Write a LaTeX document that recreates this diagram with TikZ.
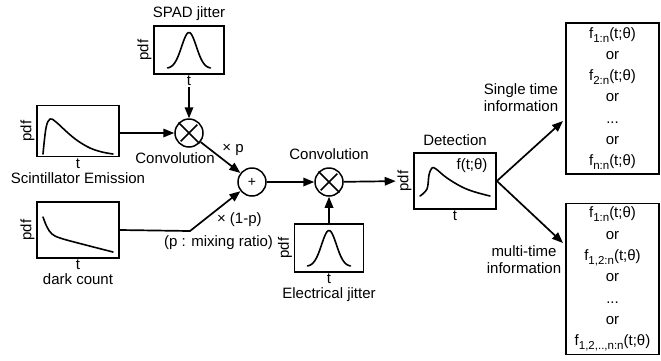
\documentclass[tikz,border=0pt]{standalone}
\usepackage{fontspec}
\setmainfont{Liberation Sans}
\usetikzlibrary{arrows.meta, positioning, calc}

\tikzset{
  plotbox/.style={draw, line width=1.8pt, inner sep=0pt},
  opnode/.style={draw, circle, line width=1.5pt, minimum size=28pt, inner sep=0pt},
  pdflabel/.style={rotate=90, anchor=south, inner sep=1.5pt},
  tlabel/.style={below=0pt of #1, inner sep=1pt},
  titlebelow/.style={below=1.5pt of #1, inner sep=1pt},
  curve/.style={line width=1.6pt, line join=round, line cap=round},
  arrow/.style={-{Triangle[length=11pt, width=8.5pt]}, line width=1.7pt},
  outbox/.style={draw, line width=1.8pt, minimum width=93pt, minimum height=151pt,
    align=center, inner sep=0pt, font=\fontsize{15pt}{21.3pt}\selectfont}
}

% bell shaped jitter curve inside a box
\newcommand{\gausscurve}[1]{%
  \draw[curve, shift={(#1.center)}] plot[domain=-21.5:21.5, samples=50, smooth]
    (\x, {18.5-36*exp(-\x*\x/110)});}
% cross inside a convolution circle
\newcommand{\crossmark}[1]{%
  \draw[line width=1.5pt, shorten >=3pt, shorten <=3pt]
    (#1.north west) -- (#1.south east) (#1.north east) -- (#1.south west);}
% order statistic index
\newcommand{\idx}[1]{\raisebox{-4pt}{\fontsize{11.5pt}{11.5pt}\selectfont #1}}

\begin{document}
\begin{tikzpicture}[x=1pt, y=-1pt,
  every node/.style={font=\fontsize{15pt}{17pt}\selectfont}]
  \useasboundingbox (0,0) rectangle (661,360);

  % input pdfs
  \node[plotbox, minimum width=70pt, minimum height=48pt] (spad) at (189,50) {};
  \node[pdflabel] (spadpdf) at (spad.west) {pdf};
  \node[tlabel=spad] (spadt) {t};
  \node[above=1pt of spad] (spadtitle) {SPAD jitter};
  \gausscurve{spad}

  \node[plotbox, minimum width=82pt, minimum height=51pt] (scint) at (78,131) {};
  \node[pdflabel] (scintpdf) at (scint.west) {pdf};
  \node[tlabel=scint] (scintt) {t};
  \node[titlebelow=scintt] (scinttitle) {Scintillator Emission};
  \draw[curve, shift={(scint.center)}] plot[smooth, tension=0.6] coordinates
    {(-35,23) (-32,-3) (-28,-12) (-22,-9) (-10,2) (0,10) (12,17) (24,21) (35,23)};

  \node[plotbox, minimum width=82pt, minimum height=56pt] (dark) at (78,230) {};
  \node[pdflabel] (darkpdf) at (dark.west) {pdf};
  \node[tlabel=dark] (darkt) {t};
  \node[titlebelow=darkt] (darktitle) {dark count};
  \draw[curve, shift={(dark.center)}] plot[smooth, tension=0.6] coordinates
    {(-35,-13) (-31,-3) (-26,4) (-18,8) (0,13) (35,22)};

  \node[plotbox, minimum width=69pt, minimum height=48pt] (elec) at (329,248) {};
  \node[pdflabel] (elecpdf) at (elec.west) {pdf};
  \node[tlabel=elec] (elect) {t};
  \node[titlebelow=elect] (electitle) {Electrical jitter};
  \gausscurve{elec}

  % operators
  \node[opnode] (conv1) at (189,133) {};
  \crossmark{conv1}
  \node[below=1pt of conv1, xshift=-14pt] (conv1label) {Convolution};
  \node[opnode, font=\fontsize{14pt}{14pt}\selectfont] (plus) at (252,182) {+};
  \node[opnode] (conv2) at (329,182) {};
  \crossmark{conv2}
  \node[above=4pt of conv2] (conv2label) {Convolution};

  % detection
  \node[plotbox, minimum width=82pt, minimum height=56pt] (det) at (455,181) {};
  \node[pdflabel] (detpdf) at (det.west) {pdf};
  \node[tlabel=det] (dett) {t};
  \node[above=3pt of det] (dettitle) {Detection};
  \node (detf) at (472,166) {f(t;θ)};
  \draw[curve, shift={(det.center)}] plot[smooth, tension=0.6] coordinates
    {(-35,15) (-28,8) (-26,-6) (-23,-13) (-19,-12) (-8,-3) (7,6) (20,11) (35,15)};

  % outputs
  \node[outbox] (single) at (612.5,98.5)
    {f\idx{1:n}(t;θ)\\or\\f\idx{2:n}(t;θ)\\or\\...\\or\\f\idx{n:n}(t;θ)};
  \node[outbox] (multi) at (612.5,279)
    {f\idx{1:n}(t;θ)\\or\\f\idx{1,2:n}(t;θ)\\or\\...\\or\\f\idx{1,2,..,n:n}(t;θ)};
  \node[align=center] (singlelabel) at (521,98) {Single time\\information};
  \node[align=center] (multilabel) at (524,259.5) {multi-time\\information};
  \coordinate (singletip) at (563,121);
  \coordinate (multitip) at (563,243);
  \coordinate (kink) at (190,231);

  % connections
  \draw[arrow] (spadt) -- (conv1);
  \draw[arrow] (scint.east |- conv1) -- (conv1);
  \draw[arrow] (conv1) -- node[midway, above right, inner sep=1pt] (plabel) {× p} (plus);
  \draw[arrow] (dark.east) -- (kink) -- node[midway, below right, inner sep=1pt] (qlabel) {× (1-p)} (plus);
  \node (mixlabel) at (218.5,243) {(p : mixing ratio)};
  \draw[arrow] (plus) -- (conv2);
  \draw[arrow] (elec) -- (conv2);
  \draw[arrow] (conv2) -- (detpdf);
  \draw[arrow] (det.east) -- (singletip);
  \draw[arrow] (det.east) -- (multitip);
\end{tikzpicture}
\end{document}
